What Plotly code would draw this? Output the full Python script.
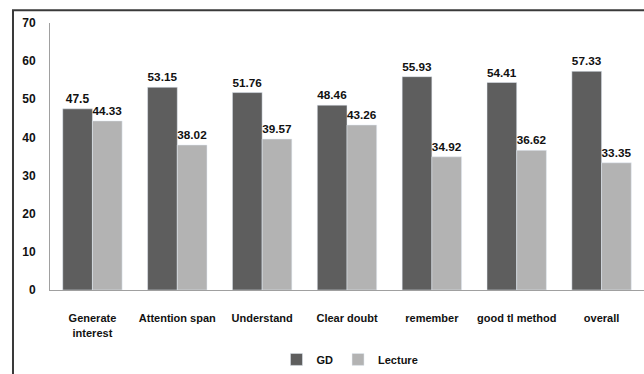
import plotly.graph_objects as go

categories = ["Generate<br>interest", "Attention span", "Understand", "Clear doubt",
              "remember", "good tl method", "overall"]
gd = [47.5, 53.15, 51.76, 48.46, 55.93, 54.41, 57.33]
lecture = [44.33, 38.02, 39.57, 43.26, 34.92, 36.62, 33.35]
gd_labels = ["47.5", "53.15", "51.76", "48.46", "55.93", "54.41", "57.33"]
lecture_labels = ["44.33", "38.02", "39.57", "43.26", "34.92", "36.62", "33.35"]
y_ticks = [0, 10, 20, 30, 40, 50, 60, 70]

FONT = "Liberation Sans Narrow, Arial Narrow, Liberation Sans, Arial"


def f(size):
    return dict(family=FONT, size=size, color="#111111", weight="bold")


fig = go.Figure()
fig.add_trace(go.Bar(x=categories, y=gd, name="GD", marker_color="#5e5e5e",
                     text=gd_labels, textposition="outside", cliponaxis=False,
                     textfont=f(12)))
fig.add_trace(go.Bar(x=categories, y=lecture, name="Lecture", marker_color="#b3b3b3",
                     text=lecture_labels, textposition="outside", cliponaxis=False,
                     textfont=f(12)))

frame = dict(color="#3a3a3a", width=2)
fig.update_layout(
    width=644, height=374,
    margin=dict(l=50, r=0, t=23, b=81),
    paper_bgcolor="white", plot_bgcolor="white",
    barmode="group", bargap=0.3, bargroupgap=0,
    font=f(11),
    showlegend=True,
    legend=dict(orientation="h", x=0.505, xanchor="center", y=-0.26, yanchor="middle",
                font=f(11), itemwidth=30, traceorder="normal"),
    xaxis=dict(showline=True, linecolor="#a0a0a0", linewidth=1, ticks="",
               tickfont=f(11), ticklabelstandoff=18, showgrid=False, tickangle=0),
    yaxis=dict(range=[0, 70], tickvals=y_ticks, showline=True, linecolor="#a0a0a0",
               linewidth=1, ticks="", showgrid=False, zeroline=False,
               tickfont=f(12), ticklabelstandoff=11),
    shapes=[
        dict(type="rect", xref="paper", yref="paper", x0=-0.0623, x1=1.05,
             y0=-0.5, y1=1.048, line=frame, fillcolor="rgba(0,0,0,0)", layer="below"),
        dict(type="line", xref="paper", yref="paper", x0=-0.0623, x1=1.0,
             y0=1.03, y1=1.03, line=dict(color="#3a3a3a", width=1.5), layer="above",
             visible=False),
    ],
)
fig.write_html("out.html")
